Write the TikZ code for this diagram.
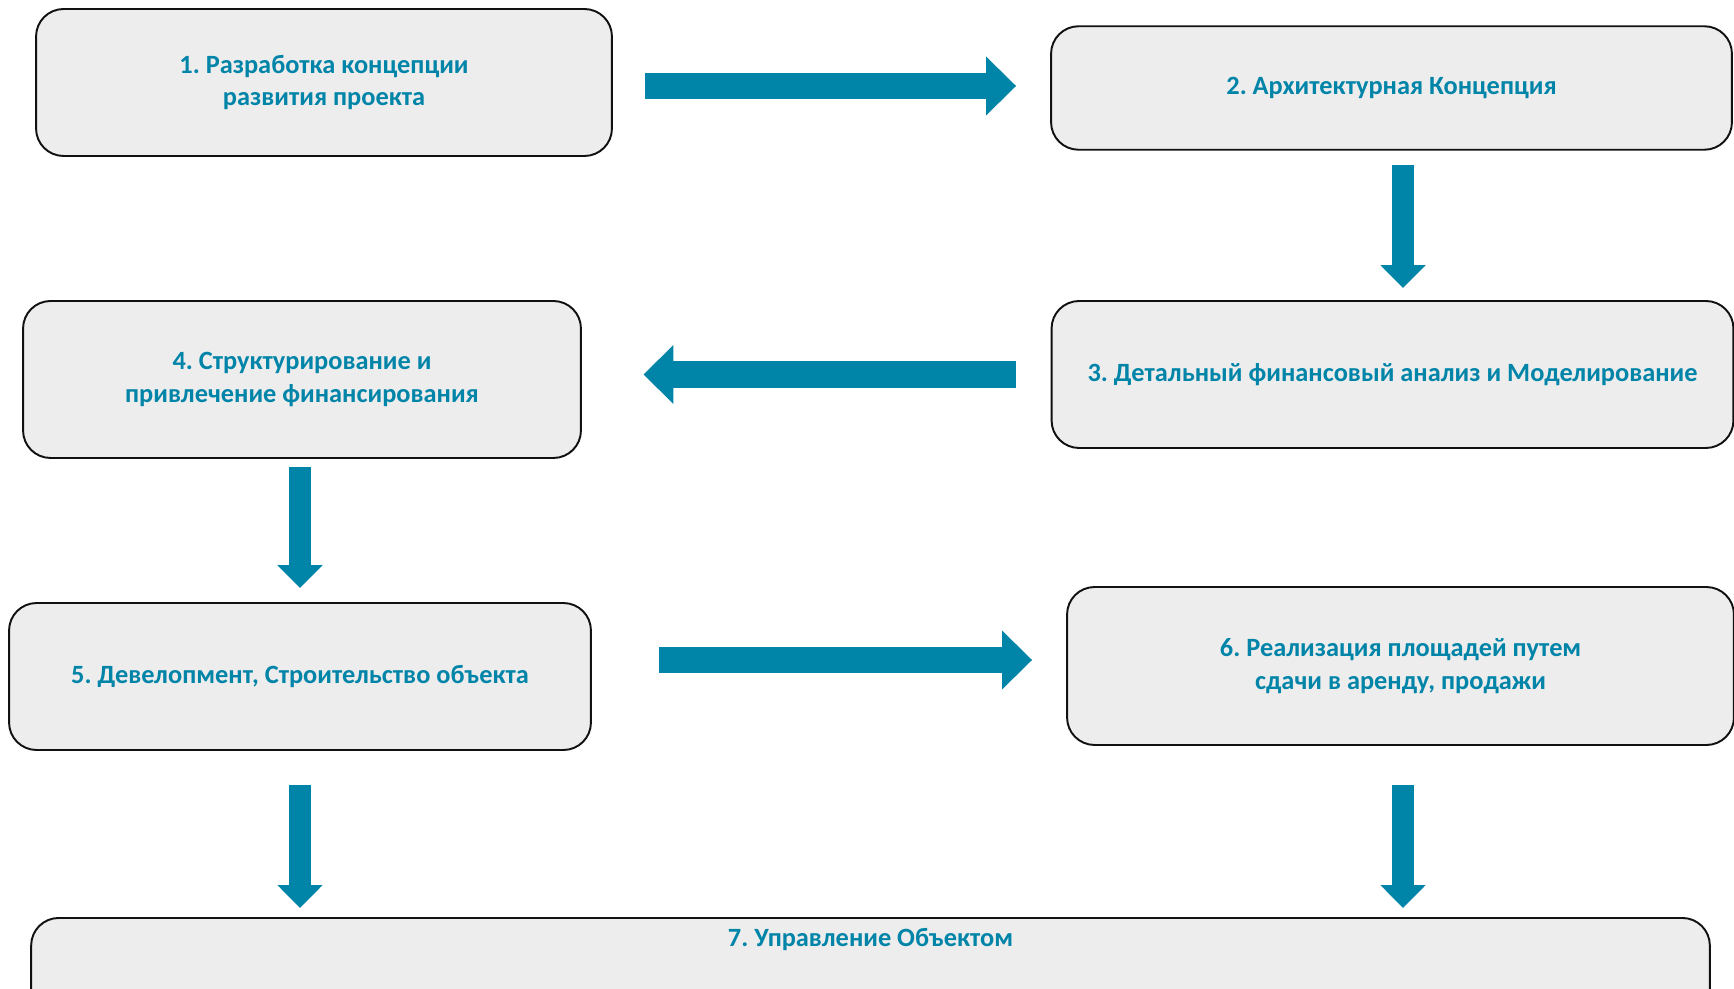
\documentclass[tikz,border=0pt]{standalone}
\usepackage{fontspec}
\setmainfont{Carlito}
\usepackage{tikz}
\usetikzlibrary{arrows.meta,positioning}
\definecolor{Biryuza}{HTML}{0084A8}
\definecolor{SeryFon}{HTML}{EDEDED}
\definecolor{Kant}{HTML}{111111}
\frenchspacing

\begin{document}
\begin{tikzpicture}[
  x=0.02cm,y=-0.02cm,
  font=\fontsize{15}{18.5}\selectfont\bfseries,
  blok/.style={draw=Kant,line width=1.1pt,rounded corners=0.55cm,fill=SeryFon,
    text=Biryuza,align=center,inner sep=4pt},
  strelkaG/.style={Biryuza,line width=0.53cm,-{Triangle[length=0.6cm 0,width=1.14cm 0]}},
  strelkaV/.style={Biryuza,line width=0.44cm,-{Triangle[length=0.46cm 0,width=0.88cm 0]}}
]
  \useasboundingbox (0,0) rectangle (1734,989);
  % Etapy proekta
  \node[blok,minimum width=11.52cm,minimum height=2.94cm] (b1) at (324,82.5)
    {1. Разработка концепции\\развития проекта};
  \node[blok,minimum width=13.62cm,minimum height=2.47cm] (b2) at (1391.5,88)
    {2. Архитектурная Концепция};
  \node[blok,minimum width=13.64cm,minimum height=2.94cm] (b3) at (1392.5,374.5)
    {3. Детальный финансовый анализ и Моделирование};
  \node[blok,minimum width=11.16cm,minimum height=3.14cm] (b4) at (302,379.5)
    {4. Структурирование и\\привлечение финансирования};
  \node[blok,minimum width=11.64cm,minimum height=2.94cm] (b5) at (300,676.5)
    {5. Девелопмент, Строительство объекта};
  \node[blok,minimum width=13.34cm,minimum height=3.16cm] (b6) at (1400.5,666)
    {6. Реализация площадей путем\\сдачи в аренду, продажи};
  \node[blok,minimum width=33.58cm,anchor=north,inner ysep=5pt,
    text height=11pt,text depth=45pt] (b7) at (870.5,917)
    {7. Управление Объектом};

  % Strelki mezhdu etapami
  \draw[strelkaG,shorten <=0.64cm,shorten >=0.68cm]
    ([yshift=-0.07cm]b1.east) -- ([yshift=-0.07cm]b1.east -| b2.west);
  \draw[strelkaV,shorten <=0.28cm,shorten >=0.24cm]
    ([xshift=0.23cm]b2.south) -- ([xshift=0.23cm]b2.south |- b3.north);
  \draw[strelkaG,shorten <=0.7cm,shorten >=1.23cm]
    (b3.west) -- (b3.west -| b4.east);
  \draw[strelkaV,shorten <=0.16cm,shorten >=0.28cm]
    ([xshift=-0.04cm]b4.south) -- ([xshift=-0.04cm]b4.south |- b5.north);
  \draw[strelkaG,shorten <=1.34cm,shorten >=0.68cm]
    ([yshift=0.33cm]b5.east) -- ([yshift=0.33cm]b5.east -| b6.west);
  \draw[strelkaV,shorten <=0.68cm,shorten >=0.18cm]
    (b5.south) -- (b5.south |- b7.north);
  \draw[strelkaV,shorten <=0.78cm,shorten >=0.18cm]
    ([xshift=0.05cm]b6.south) -- ([xshift=0.05cm]b6.south |- b7.north);
\end{tikzpicture}
\end{document}
